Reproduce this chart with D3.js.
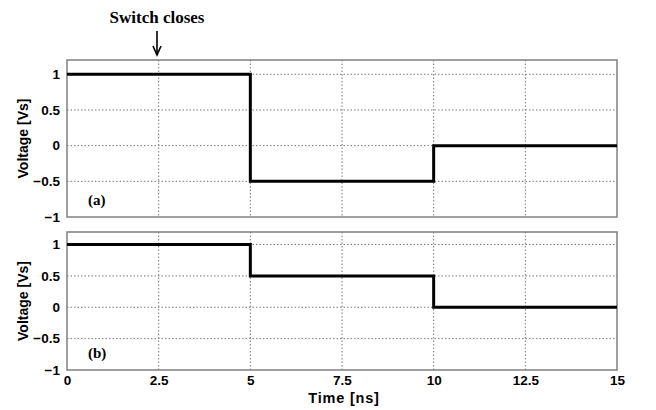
<!DOCTYPE html>
<html>
<head>
<meta charset="utf-8">
<script src="https://cdn.jsdelivr.net/npm/d3@7"></script>
<style>
  body { margin: 0; background: #fff; }
  svg { display: block; }
  .tick text { font-family: "Liberation Sans", Arial, sans-serif; font-weight: bold; font-size: 13.5px; fill: #000; }
</style>
</head>
<body>
<svg id="chart" width="656" height="410"></svg>
<script>
// Step responses: voltage levels (in units of Vs) after each breakpoint
const timesNs = [0, 5, 10, 15];
const voltageA = [1, -0.5, 0, 0];
const voltageB = [1, 0.5, 0, 0];
const xTicks = [0, 2.5, 5, 7.5, 10, 12.5, 15];
const yTicks = [-1, -0.5, 0, 0.5, 1];
const panelLabels = ["(a)", "(b)"];

const svg = d3.select("#chart");
const x = d3.scaleLinear().domain([0, 15]).range([67, 617]);

const panels = [
  { values: voltageA, top: 60, bottom: 217, label: panelLabels[0], showX: false },
  { values: voltageB, top: 232, bottom: 370, label: panelLabels[1], showX: true }
];

panels.forEach(p => {
  const y = d3.scaleLinear().domain([-1, 1.2]).range([p.bottom, p.top]);
  const g = svg.append("g");

  // dotted grid
  g.append("g").selectAll("line").data(xTicks.filter(t => t > 0 && t < 15)).join("line")
    .attr("x1", d => x(d)).attr("x2", d => x(d))
    .attr("y1", p.top).attr("y2", p.bottom)
    .attr("stroke", "#7a7a7a").attr("stroke-width", 1).attr("stroke-dasharray", "1.5,2");
  g.append("g").selectAll("line").data(yTicks.filter(t => t > -1)).join("line")
    .attr("x1", x(0)).attr("x2", x(15))
    .attr("y1", d => y(d)).attr("y2", d => y(d))
    .attr("stroke", "#7a7a7a").attr("stroke-width", 1).attr("stroke-dasharray", "1.5,2");

  // frame
  g.append("rect")
    .attr("x", x(0)).attr("y", p.top)
    .attr("width", x(15) - x(0)).attr("height", p.bottom - p.top)
    .attr("fill", "none").attr("stroke", "#808080").attr("stroke-width", 1.5);

  // axes
  const yAxis = g.append("g").attr("transform", `translate(${x(0)},0)`)
    .call(d3.axisLeft(y).tickValues(yTicks).tickFormat(d3.format("")).tickSize(0).tickPadding(7));
  yAxis.select(".domain").remove();

  if (p.showX) {
    const xAxis = g.append("g").attr("transform", `translate(0,${p.bottom})`)
      .call(d3.axisBottom(x).tickValues(xTicks).tickFormat(d3.format("")).tickSize(0).tickPadding(5));
    xAxis.select(".domain").remove();
  }

  // step trace
  const pts = timesNs.map((t, i) => [t, p.values[i]]);
  g.append("path")
    .datum(pts)
    .attr("fill", "none").attr("stroke", "#000").attr("stroke-width", 3)
    .attr("d", d3.line().x(d => x(d[0])).y(d => y(d[1])).curve(d3.curveStepAfter));

  // y-axis title
  g.append("text")
    .attr("transform", `translate(28,${(p.top + p.bottom) / 2}) rotate(-90)`)
    .attr("text-anchor", "middle")
    .attr("font-family", "Liberation Sans, Arial, sans-serif")
    .attr("font-weight", "bold").attr("font-size", 14)
    .text("Voltage [Vs]");

  // panel tag
  g.append("text")
    .attr("x", 88).attr("y", p.bottom - 12)
    .attr("font-family", "Liberation Serif, Times New Roman, serif")
    .attr("font-weight", "bold").attr("font-size", 15)
    .text(p.label);
});

// x-axis title
svg.append("text")
  .attr("x", 344).attr("y", 403)
  .attr("text-anchor", "middle")
  .attr("font-family", "Liberation Sans, Arial, sans-serif")
  .attr("font-weight", "bold").attr("font-size", 14.5)
  .attr("letter-spacing", 0.8)
  .text("Time [ns]");

// annotation with arrow
svg.append("text")
  .attr("x", 157).attr("y", 23)
  .attr("text-anchor", "middle")
  .attr("font-family", "Liberation Serif, Times New Roman, serif")
  .attr("font-weight", "bold").attr("font-size", 17)
  .text("Switch closes");
svg.append("line")
  .attr("x1", 157).attr("x2", 157).attr("y1", 31).attr("y2", 54)
  .attr("stroke", "#000").attr("stroke-width", 1.6);
svg.append("path")
  .attr("d", "M153,46 L157,55 L161,46")
  .attr("fill", "none").attr("stroke", "#000").attr("stroke-width", 1.6);
</script>
</body>
</html>
